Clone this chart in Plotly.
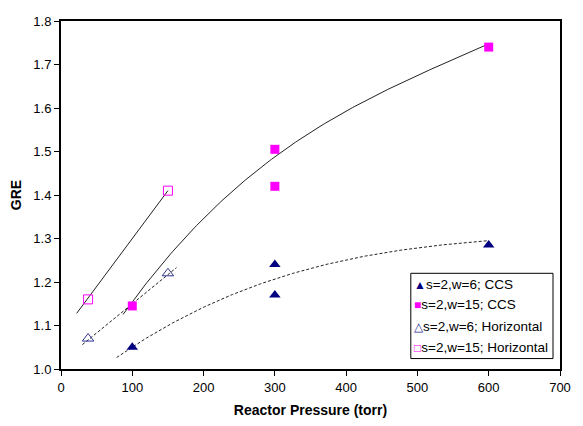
import numpy as np
import plotly.graph_objects as go

# Data (markers)
ccs6_x = [100, 300, 300, 600]
ccs6_y = [1.05, 1.24, 1.17, 1.285]
ccs15_x = [100, 300, 300, 600]
ccs15_y = [1.145, 1.505, 1.42, 1.74]
hor6_x = [38, 150]
hor6_y = [1.07, 1.22]
hor15_x = [38, 150]
hor15_y = [1.16, 1.41]

# Trendline values
tr_ccs15_x = [87, 258, 300, 363, 447, 489, 599]
tr_ccs15_y = [1.126, 1.426, 1.494, 1.561, 1.633, 1.663, 1.748]
tr_ccs6_x = [78, 153, 293, 307, 433, 447, 517, 600]
tr_ccs6_y = [1.03, 1.095, 1.205, 1.216, 1.261, 1.264, 1.279, 1.297]
tr_hor15_x = [22, 150]
tr_hor15_y = [1.128, 1.41]
tr_hor6_x = [30, 162]
tr_hor6_y = [1.056, 1.233]

legend_names = ["s=2,w=6; CCS", "s=2,w=15; CCS", "s=2,w=6; Horizontal", "s=2,w=15; Horizontal"]

NAVY = "#000080"
MAG = "#FF00FF"
FONT = "Liberation Sans, Arial, sans-serif"

fig = go.Figure()

def trend(xs, ys, deg, dash):
    c = np.polyfit(xs, ys, deg)
    xx = np.linspace(xs[0], xs[-1], 200)
    fig.add_trace(go.Scatter(x=xx, y=np.polyval(c, xx), mode="lines",
                             line=dict(color="#222222", width=1, dash=dash),
                             showlegend=False, hoverinfo="skip"))

trend(tr_ccs15_x, tr_ccs15_y, 3, "solid")
trend(tr_ccs6_x, tr_ccs6_y, 3, "3px,2px")
trend(tr_hor15_x, tr_hor15_y, 1, "solid")
trend(tr_hor6_x, tr_hor6_y, 1, "3px,2px")

fig.add_trace(go.Scatter(x=ccs6_x, y=ccs6_y, mode="markers", name=legend_names[0],
                         marker=dict(symbol="triangle-up", color=NAVY, size=10)))
fig.add_trace(go.Scatter(x=ccs15_x, y=ccs15_y, mode="markers", name=legend_names[1],
                         marker=dict(symbol="square", color=MAG, size=9)))
fig.add_trace(go.Scatter(x=hor6_x, y=hor6_y, mode="markers", name=legend_names[2],
                         marker=dict(symbol="triangle-up-open", color="#333399", size=10,
                                     line=dict(width=1))))
fig.add_trace(go.Scatter(x=hor15_x, y=hor15_y, mode="markers", name=legend_names[3],
                         marker=dict(symbol="square-open", color=MAG, size=9,
                                     line=dict(width=1))))

# Manual legend box (Excel style)
fig.add_shape(type="rect", xref="paper", yref="paper", x0=0.701, x1=0.986, y0=0.030, y1=0.275,
              line=dict(color="black", width=1), fillcolor="white", layer="above")
glyphs = [("▲", NAVY), ("■", MAG), ("△", "#333399"), ("□", MAG)]
rows_y = [0.243, 0.184, 0.122, 0.063]
for (g, col), name, yy in zip(glyphs, legend_names, rows_y):
    fig.add_annotation(xref="paper", yref="paper", x=0.703, y=yy, xanchor="left", yanchor="middle",
                       showarrow=False,
                       text=f'<span style="color:{col};font-size:12px">{g}</span>{name}',
                       font=dict(family=FONT, size=13.5, color="black"))

fig.update_layout(
    width=575, height=418,
    margin=dict(l=53, r=23, t=6, b=57),
    paper_bgcolor="white", plot_bgcolor="white",
    font=dict(family=FONT, size=13, color="black"),
    showlegend=False,
)
fig.update_xaxes(range=[0, 700], dtick=100, showgrid=False, zeroline=False,
                 showline=True, linecolor="black", linewidth=2, mirror=True,
                 ticks="outside", ticklen=5, tickcolor="black",
                 tickfont=dict(size=13),
                 title=dict(text="<b>Reactor Pressure (torr)</b>", font=dict(size=14), standoff=12))
fig.update_yaxes(range=[1.0, 1.8], dtick=0.1, tickformat=".1f", showgrid=False, zeroline=False,
                 showline=True, linecolor="black", linewidth=2, mirror=True,
                 ticks="outside", ticklen=5, tickcolor="black",
                 tickfont=dict(size=13),
                 title=dict(text="<b>GRE</b>", font=dict(size=14), standoff=10))

fig.write_html("out.html")
